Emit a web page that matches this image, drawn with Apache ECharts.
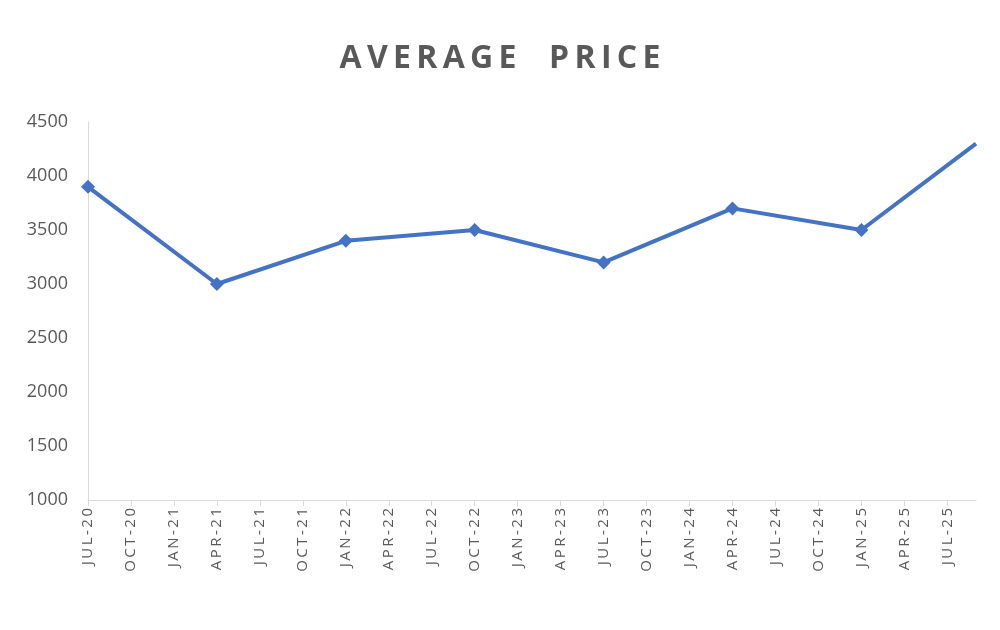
<!DOCTYPE html>
<html><head><meta charset="utf-8">
<script src="https://cdn.jsdelivr.net/npm/echarts@6/dist/echarts.min.js"></script>
<style>html,body{margin:0;background:#fff}#c{width:1000px;height:630px}</style>
</head><body><div id="c"></div>
<script>
const monthNames = ['JAN','FEB','MAR','APR','MAY','JUN','JUL','AUG','SEP','OCT','NOV','DEC'];
const pointDates = ['JUL-20','APR-21','JAN-22','OCT-22','JUL-23','APR-24','JAN-25','SEP-25'];
const pointValues = [3900, 3000, 3400, 3500, 3200, 3700, 3500, 4300];
const yTicks = [1000, 4500, 500];
const titleText = 'AVERAGE  PRICE';
const categories = [];
for (let y = 2020, m = 6; y < 2025 || (y === 2025 && m <= 8); m++) {
  if (m === 12) { m = 0; y++; }
  categories.push(monthNames[m] + '-' + String(y).slice(2));
}
const data = pointDates.map((d, i) => [d, pointValues[i]]);
const chart = echarts.init(document.getElementById('c'));
chart.setOption({
  animation: false,
  title: { text: titleText.split('').join('\u2009'), left: 'center', top: 38,
    textStyle: { fontFamily: 'Open Sans', fontSize: 32, fontWeight: 'bold', color: '#595959' } },
  grid: { left: 88, right: 24, top: 122, bottom: 130 },
  xAxis: { type: 'category', data: categories, boundaryGap: false,
    axisLine: { lineStyle: { color: '#d9d9d9' } },
    axisTick: { interval: 2, lineStyle: { color: '#d9d9d9' }, length: 6 },
    axisLabel: { interval: 2, rotate: 90, color: '#595959', fontSize: 15, fontFamily: 'Open Sans', margin: 8,
      formatter: v => v.split('').join('\u2009') } },
  yAxis: { type: 'value', min: yTicks[0], max: yTicks[1], interval: yTicks[2],
    splitLine: { show: false },
    axisLine: { show: true, lineStyle: { color: '#d9d9d9' } },
    axisLabel: { color: '#595959', fontSize: 18, fontFamily: 'Open Sans', margin: 20, formatter: v => String(v) } },
  series: [{ type: 'line', data: data, symbol: 'diamond', symbolSize: 14, clip: false,
    lineStyle: { color: '#4472c4', width: 4 }, itemStyle: { color: '#4472c4' } }]
});
</script></body></html>
